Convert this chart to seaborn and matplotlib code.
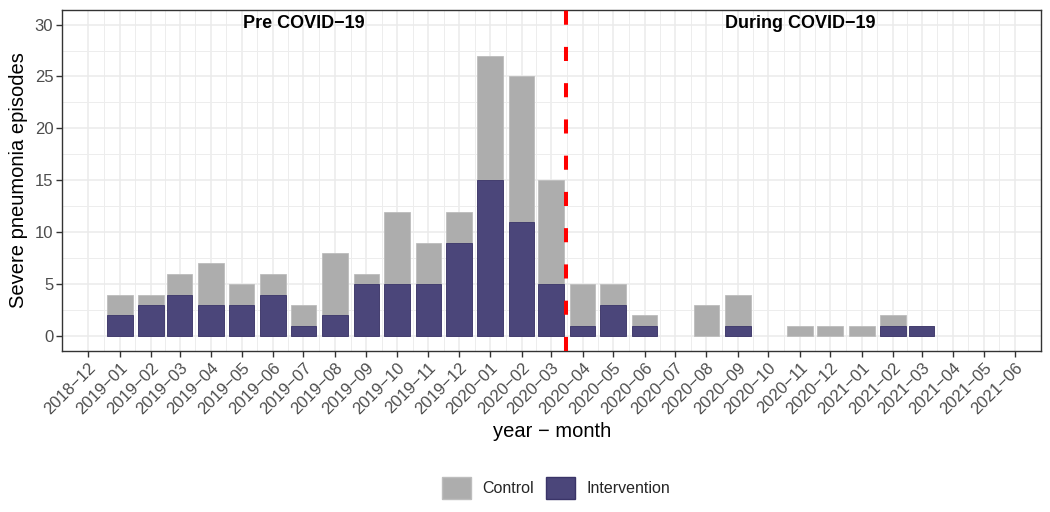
import numpy as np
import pandas as pd
import matplotlib
matplotlib.use("Agg")
import matplotlib.pyplot as plt
import matplotlib.dates as mdates
from matplotlib.patches import Patch
import seaborn as sns

# monthly severe pneumonia episodes
months = ["2019-01", "2019-02", "2019-03", "2019-04", "2019-05", "2019-06",
          "2019-07", "2019-08", "2019-09", "2019-10", "2019-11", "2019-12",
          "2020-01", "2020-02", "2020-03", "2020-04", "2020-05", "2020-06",
          "2020-07", "2020-08", "2020-09", "2020-10", "2020-11", "2020-12",
          "2021-01", "2021-02", "2021-03"]
intervention = [2, 3, 4, 3, 3, 4, 1, 2, 5, 5, 5, 9,
                15, 11, 5, 1, 3, 1, 0, 0, 1, 0, 0, 0, 0, 1, 1]
control = [2, 1, 2, 4, 2, 2, 2, 6, 1, 7, 4, 3,
           12, 14, 10, 4, 2, 1, 0, 3, 3, 0, 1, 1, 1, 1, 0]

tick_months = pd.date_range("2018-12-01", "2021-06-01", freq="MS")
covid_start = "2020-03-16"
period_labels = ["Pre COVID\u221219", "During COVID\u221219"]
period_label_x = ["2019-07-01", "2020-11-01"]

ctrl_color = "#ADADAD"
int_color = "#4B467A"

df = pd.DataFrame({
    "month": pd.to_datetime(months),
    "Intervention": intervention,
    "Control": control,
})
df["total"] = df["Intervention"] + df["Control"]
df["x"] = mdates.date2num(df["month"])

sns.set_theme(style="whitegrid")
plt.rcParams["font.family"] = ["Liberation Sans", "DejaVu Sans"]

fig = plt.figure(figsize=(10.5, 5.12), dpi=100)
ax = fig.add_axes([62.3 / 1050, 1 - 350.7 / 512, (1041 - 62.3) / 1050, (350.7 - 10) / 512])

# stacked look: total in grey, intervention drawn over it from zero
tot = df[df["total"] > 0]
sns.barplot(data=tot, x="x", y="total", native_scale=True, width=0.9,
            color=ctrl_color, saturation=1, edgecolor="#BDBDBD", linewidth=0.6,
            errorbar=None, ax=ax, zorder=2)
itv = df[df["Intervention"] > 0]
sns.barplot(data=itv, x="x", y="Intervention", native_scale=True, width=0.9,
            color=int_color, saturation=1, edgecolor="#3A3468", linewidth=0.6,
            errorbar=None, ax=ax, zorder=3)

ax.axvline(mdates.datestr2num(covid_start), color="#FF0000", lw=2.9,
           linestyle=(0, (3.5, 5.5)), zorder=4)

for lab, xd in zip(period_labels, period_label_x):
    ax.text(mdates.datestr2num(xd), 30.1, lab, ha="center", va="center",
            fontsize=13, fontweight="bold", color="black", zorder=5)

tick_x = mdates.date2num(tick_months)
ax.set_xticks(tick_x)
ax.set_xticklabels([d.strftime("%Y\u2212%m") for d in tick_months],
                   rotation=45, ha="right", rotation_mode="anchor")
minor_x = (tick_x[:-1] + tick_x[1:]) / 2
ax.set_xticks(minor_x, minor=True)
ax.set_yticks(np.arange(0, 31, 5))
ax.set_yticks(np.arange(2.5, 31, 5), minor=True)

ax.set_xlim(tick_x[0] - 25.6, tick_x[-1] + 25.6)
ax.set_ylim(-1.4, 31.4)

ax.set_axisbelow(True)
ax.grid(which="major", color="#EBEBEB", lw=1.1)
ax.grid(which="minor", color="#EDEDED", lw=0.7)
for s in ax.spines.values():
    s.set_visible(True)
    s.set_color("#333333")
    s.set_linewidth(1.0)

ax.tick_params(axis="both", which="major", length=4, width=1.0, color="#333333",
               labelsize=12, labelcolor="#4D4D4D", pad=2.5, bottom=True, left=True)
ax.tick_params(axis="both", which="minor", length=0)

ax.set_xlabel("year \u2212 month", fontsize=14.5, color="black", labelpad=4)
ax.set_ylabel("Severe pneumonia episodes", fontsize=14.5, color="black", labelpad=5)

handles = [Patch(facecolor=ctrl_color, edgecolor="#BDBDBD", label="Control"),
           Patch(facecolor=int_color, edgecolor="#3A3468", label="Intervention")]
fig.legend(handles=handles, loc="center", bbox_to_anchor=(556 / 1050, 1 - 488 / 512),
           ncol=2, frameon=False, fontsize=11.5, handlelength=1.8, handleheight=1.8,
           handletextpad=0.7, columnspacing=0.8)

fig.savefig("out.png", dpi=100)
